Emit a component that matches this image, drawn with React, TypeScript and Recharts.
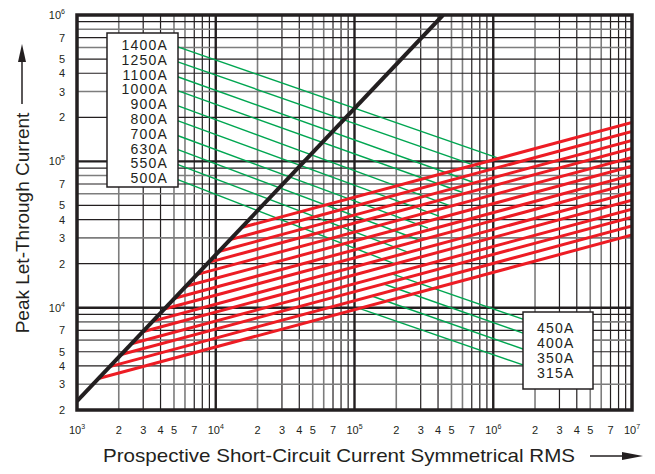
import React from 'react';
import { LineChart, Line, XAxis, YAxis } from 'recharts';

// fuse ratings, top group (box at upper left) then bottom group (box at lower right)
const fuseRatings = ['1400A', '1250A', '1100A', '1000A', '900A', '800A', '700A', '630A', '550A', '500A', '450A', '400A', '350A', '315A'];

// red let-through lines: start on the peak line, end at 10^7
const redStartX = [15350, 12700, 10510, 8880, 7350, 6085, 5036, 4256, 3523, 2977, 2465, 2082, 1723, 1427];
const redStartY = [35300, 29200, 24200, 20400, 16900, 14000, 11600, 9790, 8100, 6850, 5670, 4790, 3960, 3280];
const redEndX = 1e7;
const redEndY = [184200, 160000, 139000, 122600, 106500, 92500, 80300, 70850, 61530, 54280, 47150, 41590, 36130, 31380];

// green leader lines from the label boxes to the red lines
const greenFromX = [4840, 4840, 4840, 4840, 4840, 4840, 4840, 4840, 4840, 4840, 1934000, 1934000, 1934000, 1934000];
const greenFromY = [625000, 494000, 390700, 313700, 248000, 196100, 155000, 124500, 98450, 77830, 7907, 6348, 4942, 3846];
const greenToX = [1100000, 886600, 714500, 595300, 496000, 406400, 338500, 291600, 238900, 195800, 186300, 160500, 131500, 109500];
const greenToY = [104800, 88250, 71970, 61520, 49410, 42250, 35010, 29010, 24040, 19920, 17030, 14570, 12070, 9845];

// black peak (asymmetrical) line
const peakX = [1000, 434800];
const peakY = [2300, 1000000];

// axis ticks
const xTickValues = [1e3, 2e3, 3e3, 4e3, 5e3, 7e3, 1e4, 2e4, 3e4, 4e4, 5e4, 7e4, 1e5, 2e5, 3e5, 4e5, 5e5, 7e5, 1e6, 2e6, 3e6, 4e6, 5e6, 7e6, 1e7];
const xTickLabels = ['10^3', '2', '3', '4', '5', '7', '10^4', '2', '3', '4', '5', '7', '10^5', '2', '3', '4', '5', '7', '10^6', '2', '3', '4', '5', '7', '10^7'];
const yTickValues = [2e3, 3e3, 4e3, 5e3, 7e3, 1e4, 2e4, 3e4, 4e4, 5e4, 7e4, 1e5, 2e5, 3e5, 4e5, 5e5, 7e5, 1e6];
const yTickLabels = ['2', '3', '4', '5', '7', '10^4', '2', '3', '4', '5', '7', '10^5', '2', '3', '4', '5', '7', '10^6'];

// grid
const xDecades = [1e3, 1e4, 1e5, 1e6];
const yDecades = [1e3, 1e4, 1e5];
const mantissas = [2, 3, 4, 5, 6, 7, 8, 9];
const xGreyMant = [2, 5, 6];
const yGreyMant = [3, 6, 8];
const xMajor = [1e4, 1e5, 1e6];
const yMajor = [1e4, 1e5];

const X_MIN = 1e3;
const X_MAX = 1e7;
const Y_MIN = 2e3;
const Y_MAX = 1e6;

const W = 655;
const H = 474;
const ink = '#231f20';
const grey = '#7d7d7d';
const font = '"Liberation Sans", Arial, sans-serif';

const seg = (x1: number, y1: number, x2: number, y2: number) => [
  { x: x1, y: y1 },
  { x: x2, y: y2 },
];

const minorValues = (decades: number[], lo: number, hi: number) =>
  decades.flatMap((d) => mantissas.map((m) => ({ v: m * d, m }))).filter((o) => o.v > lo && o.v < hi);

type GridLine = { key: string; data: { x: number; y: number }[]; color: string; width: number };

const gridLines: GridLine[] = [
  ...minorValues(xDecades, X_MIN, X_MAX).map((o) => ({
    key: 'vx' + o.v,
    data: seg(o.v, Y_MIN, o.v, Y_MAX),
    color: xGreyMant.includes(o.m) ? grey : ink,
    width: xGreyMant.includes(o.m) ? 1.6 : 1.2,
  })),
  ...minorValues(yDecades, Y_MIN, Y_MAX).map((o) => ({
    key: 'hy' + o.v,
    data: seg(X_MIN, o.v, X_MAX, o.v),
    color: yGreyMant.includes(o.m) ? grey : ink,
    width: yGreyMant.includes(o.m) ? 1.6 : 1.2,
  })),
  ...xMajor.map((v) => ({ key: 'VX' + v, data: seg(v, Y_MIN, v, Y_MAX), color: ink, width: 2.4 })),
  ...yMajor.map((v) => ({ key: 'HY' + v, data: seg(X_MIN, v, X_MAX, v), color: ink, width: 2.4 })),
];

const renderLabel = (label: string) => {
  if (label.startsWith('10^')) {
    return (
      <>
        10
        <tspan dy={-5} fontSize={7}>
          {label.slice(3)}
        </tspan>
      </>
    );
  }
  return label;
};

const XTick = ({ x, y, payload }: any) => {
  const i = xTickValues.indexOf(payload.value);
  return (
    <text x={x} y={y + 16} textAnchor="middle" fontSize={11} fill={ink} fontFamily={font}>
      {renderLabel(xTickLabels[i] ?? '')}
    </text>
  );
};

const YTick = ({ x, y, payload }: any) => {
  const i = yTickValues.indexOf(payload.value);
  return (
    <text x={x - 4} y={y + 4} textAnchor="end" fontSize={11} fill={ink} fontFamily={font}>
      {renderLabel(yTickLabels[i] ?? '')}
    </text>
  );
};

export default function App() {
  const plot = { left: 77, top: 15, right: 632, bottom: 410 };
  return (
    <div style={{ margin: -8, position: 'relative', width: W, height: H, background: '#fff', fontFamily: font, overflow: 'hidden' }}>
      <LineChart width={W} height={H} margin={{ top: plot.top, right: W - plot.right, left: 17, bottom: 34 }}>
        <XAxis
          dataKey="x"
          type="number"
          scale="log"
          domain={[X_MIN, X_MAX]}
          ticks={xTickValues}
          interval={0}
          tick={<XTick />}
          tickLine={false}
          axisLine={false}
          allowDataOverflow
          height={30}
        />
        <YAxis
          dataKey="y"
          type="number"
          scale="log"
          domain={[Y_MIN, Y_MAX]}
          ticks={yTickValues}
          interval={0}
          tick={<YTick />}
          tickLine={false}
          axisLine={false}
          allowDataOverflow
          width={60}
        />
        {gridLines.map((g) => (
          <Line
            key={g.key}
            data={g.data}
            dataKey="y"
            stroke={g.color}
            strokeWidth={g.width}
            dot={false}
            activeDot={false}
            isAnimationActive={false}
          />
        ))}
        {fuseRatings.map((f, i) => (
          <Line
            key={'g' + f}
            data={seg(greenFromX[i], greenFromY[i], greenToX[i], greenToY[i])}
            dataKey="y"
            stroke="#00a651"
            strokeWidth={1.4}
            dot={false}
            isAnimationActive={false}
          />
        ))}
        {fuseRatings.map((f, i) => (
          <Line
            key={'r' + f}
            data={seg(redStartX[i], redStartY[i], redEndX, redEndY[i])}
            dataKey="y"
            stroke="#ed1c24"
            strokeWidth={3}
            dot={false}
            isAnimationActive={false}
          />
        ))}
        <Line
          data={seg(peakX[0], peakY[0], peakX[1], peakY[1])}
          dataKey="y"
          stroke={ink}
          strokeWidth={4}
          dot={false}
          isAnimationActive={false}
        />
      </LineChart>
      <svg width={W} height={H} style={{ position: 'absolute', left: 0, top: 0, pointerEvents: 'none' }}>
        <rect
          x={plot.left}
          y={plot.top}
          width={plot.right - plot.left}
          height={plot.bottom - plot.top}
          fill="none"
          stroke={ink}
          strokeWidth={3.5}
        />
        <rect x={107} y={33} width={71} height={154} fill="#fff" stroke={ink} strokeWidth={1.5} />
        {fuseRatings.slice(0, 10).map((f, i) => (
          <text key={f} x={168} y={50 + i * 14.8} textAnchor="end" fontSize={14} letterSpacing={1.2} fill={ink} fontFamily={font}>
            {f}
          </text>
        ))}
        <rect x={523} y={312} width={70} height={77} fill="#fff" stroke={ink} strokeWidth={1.5} />
        {fuseRatings.slice(10).map((f, i) => (
          <text key={f} x={537} y={333 + i * 15} fontSize={14} letterSpacing={1.2} fill={ink} fontFamily={font}>
            {f}
          </text>
        ))}
        <text
          transform="translate(29,223) rotate(-90)"
          textAnchor="middle"
          fontSize={19}
          fill={ink}
          fontFamily={font}
        >
          Peak Let-Through Current
        </text>
        <line x1={22} y1={104} x2={22} y2={60} stroke={ink} strokeWidth={1.5} />
        <polygon points="22,44 18,62 26,62" fill={ink} />
        <text x={103} y={462} fontSize={18.5} textLength={472} lengthAdjust="spacingAndGlyphs" fill={ink} fontFamily={font}>
          Prospective Short-Circuit Current Symmetrical RMS
        </text>
        <line x1={590} y1={456} x2={625} y2={456} stroke={ink} strokeWidth={1.5} />
        <polygon points="643,456 622,452 622,460" fill={ink} />
      </svg>
    </div>
  );
}
